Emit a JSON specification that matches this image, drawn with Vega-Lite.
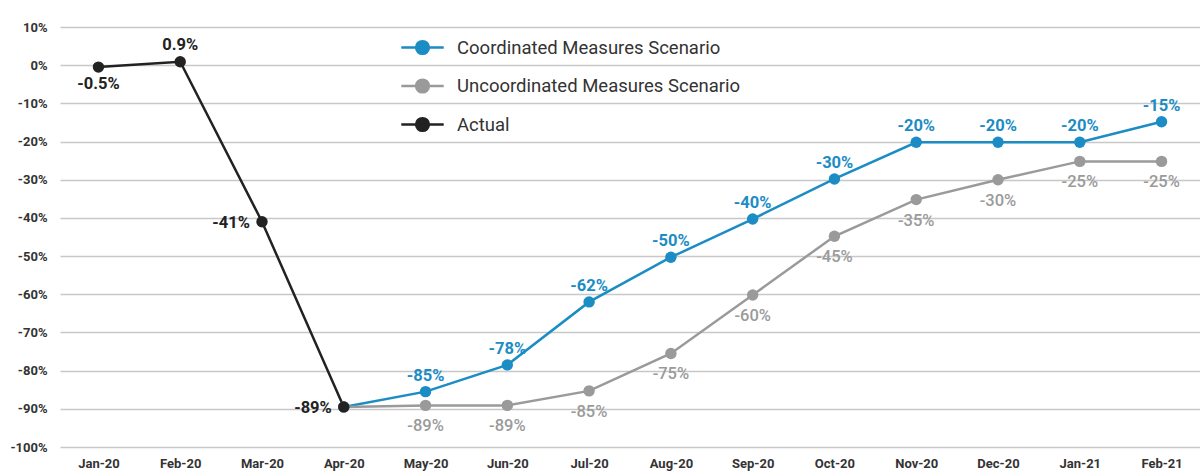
{
  "$schema": "https://vega.github.io/schema/vega-lite/v6.json",
  "autosize": {"type": "none"},
  "width": 1140,
  "height": 420,
  "padding": {"left": 60, "top": 27, "right": 0, "bottom": 28},
  "background": "white",
  "config": {
    "view": {"stroke": null},
    "font": "Roboto",
    "axis": {"labelFont": "Roboto", "labelFontWeight": "bold", "labelFontSize": 13, "labelColor": "#333333", "ticks": false, "domain": false, "title": null}
  },
  "data": {
    "values": [
      {"month": "Apr-20", "series": "Coordinated Measures Scenario", "value": -89.5, "label": ""},
      {"month": "May-20", "series": "Coordinated Measures Scenario", "value": -85.5, "label": "-85%"},
      {"month": "Jun-20", "series": "Coordinated Measures Scenario", "value": -78.5, "label": "-78%"},
      {"month": "Jul-20", "series": "Coordinated Measures Scenario", "value": -62, "label": "-62%"},
      {"month": "Aug-20", "series": "Coordinated Measures Scenario", "value": -50.3, "label": "-50%"},
      {"month": "Sep-20", "series": "Coordinated Measures Scenario", "value": -40.3, "label": "-40%"},
      {"month": "Oct-20", "series": "Coordinated Measures Scenario", "value": -29.8, "label": "-30%"},
      {"month": "Nov-20", "series": "Coordinated Measures Scenario", "value": -20.2, "label": "-20%"},
      {"month": "Dec-20", "series": "Coordinated Measures Scenario", "value": -20.2, "label": "-20%"},
      {"month": "Jan-21", "series": "Coordinated Measures Scenario", "value": -20.2, "label": "-20%"},
      {"month": "Feb-21", "series": "Coordinated Measures Scenario", "value": -14.8, "label": "-15%"},
      {"month": "Apr-20", "series": "Uncoordinated Measures Scenario", "value": -89.5, "label": ""},
      {"month": "May-20", "series": "Uncoordinated Measures Scenario", "value": -89.1, "label": "-89%"},
      {"month": "Jun-20", "series": "Uncoordinated Measures Scenario", "value": -89.1, "label": "-89%"},
      {"month": "Jul-20", "series": "Uncoordinated Measures Scenario", "value": -85.3, "label": "-85%"},
      {"month": "Aug-20", "series": "Uncoordinated Measures Scenario", "value": -75.5, "label": "-75%"},
      {"month": "Sep-20", "series": "Uncoordinated Measures Scenario", "value": -60.2, "label": "-60%"},
      {"month": "Oct-20", "series": "Uncoordinated Measures Scenario", "value": -44.8, "label": "-45%"},
      {"month": "Nov-20", "series": "Uncoordinated Measures Scenario", "value": -35.2, "label": "-35%"},
      {"month": "Dec-20", "series": "Uncoordinated Measures Scenario", "value": -30, "label": "-30%"},
      {"month": "Jan-21", "series": "Uncoordinated Measures Scenario", "value": -25.2, "label": "-25%"},
      {"month": "Feb-21", "series": "Uncoordinated Measures Scenario", "value": -25.2, "label": "-25%"},
      {"month": "Jan-20", "series": "Actual", "value": -0.5, "label": "-0.5%"},
      {"month": "Feb-20", "series": "Actual", "value": 0.9, "label": "0.9%"},
      {"month": "Mar-20", "series": "Actual", "value": -41, "label": "-41%"},
      {"month": "Apr-20", "series": "Actual", "value": -89.5, "label": "-89%"}
    ]
  },
  "encoding": {
    "x": {
      "field": "month", "type": "ordinal",
      "sort": ["Jan-20","Feb-20","Mar-20","Apr-20","May-20","Jun-20","Jul-20","Aug-20","Sep-20","Oct-20","Nov-20","Dec-20","Jan-21","Feb-21"],
      "scale": {"type": "point", "padding": 0.47},
      "axis": {"labelAngle": 0, "labelPadding": 10, "grid": false}
    },
    "y": {
      "field": "value", "type": "quantitative",
      "scale": {"domain": [-100, 10], "nice": false, "zero": false},
      "axis": {"values": [10,0,-10,-20,-30,-40,-50,-60,-70,-80,-90,-100], "labelExpr": "datum.value + '%'", "labelPadding": 13, "grid": true, "gridColor": "#c8c8c8", "gridWidth": 1.5}
    }
  },
  "layer": [
    {
      "mark": {"type": "line", "strokeWidth": 2.5},
      "encoding": {
        "color": {
          "field": "series", "type": "nominal",
          "scale": {"domain": ["Coordinated Measures Scenario", "Uncoordinated Measures Scenario", "Actual"], "range": ["#1b8cc4", "#9a9a9a", "#222222"]},
          "legend": {
            "title": null, "orient": "none", "legendX": 340, "legendY": -2,
            "symbolType": "M-1,0H1M-0.3,0A0.3,0.3 0 1,0 0.3,0A0.3,0.3 0 1,0 -0.3,0Z",
            "symbolSize": 1800, "symbolStrokeWidth": 2.5,
            "labelFont": "Roboto", "labelFontSize": 18.5, "labelColor": "#333333", "labelOffset": 12, "labelLimit": 400,
            "rowPadding": 4.5,
            "encode": {"symbols": {"update": {"fill": {"scale": "color", "field": "value"}, "stroke": {"scale": "color", "field": "value"}, "fillOpacity": {"value": 1}}}}
          }
        }
      }
    },
    {
      "mark": {"type": "point", "filled": true, "size": 130, "opacity": 1},
      "encoding": {"color": {"field": "series", "type": "nominal", "legend": null}}
    },
    {
      "transform": [{"filter": "datum.series === 'Coordinated Measures Scenario'"}],
      "mark": {"type": "text", "dy": -16, "fontSize": 16.5, "fontWeight": "bold", "color": "#1b8cc4", "baseline": "middle"},
      "encoding": {"text": {"field": "label"}}
    },
    {
      "transform": [{"filter": "datum.series === 'Uncoordinated Measures Scenario'"}],
      "mark": {"type": "text", "dy": 21, "fontSize": 16.5, "fontWeight": 500, "color": "#9a9a9a", "baseline": "middle"},
      "encoding": {"text": {"field": "label"}}
    },
    {
      "transform": [{"filter": "datum.series === 'Actual' && datum.month === 'Jan-20'"}],
      "mark": {"type": "text", "dy": 17, "dx": 0, "fontSize": 16.5, "fontWeight": "bold", "color": "#222222", "baseline": "middle"},
      "encoding": {"text": {"field": "label"}}
    },
    {
      "transform": [{"filter": "datum.series === 'Actual' && datum.month === 'Feb-20'"}],
      "mark": {"type": "text", "dy": -17, "fontSize": 16.5, "fontWeight": "bold", "color": "#222222", "baseline": "middle"},
      "encoding": {"text": {"field": "label"}}
    },
    {
      "transform": [{"filter": "datum.series === 'Actual' && (datum.month === 'Mar-20' || datum.month === 'Apr-20')"}],
      "mark": {"type": "text", "dx": -12, "dy": 1, "align": "right", "fontSize": 16.5, "fontWeight": "bold", "color": "#222222", "baseline": "middle"},
      "encoding": {"text": {"field": "label"}}
    }
  ]
}
